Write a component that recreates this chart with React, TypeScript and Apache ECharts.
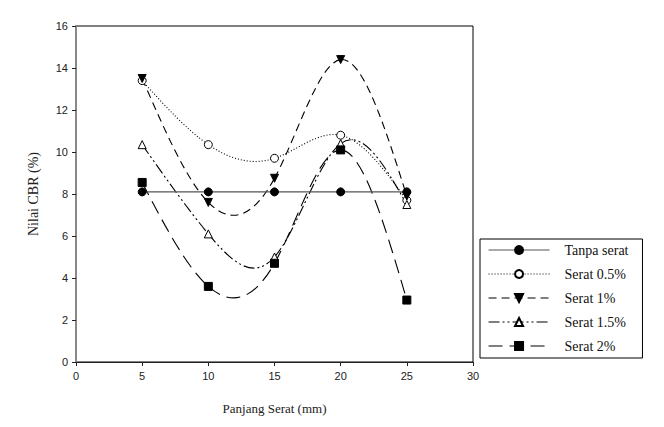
import React, { useEffect, useRef } from "react";
import * as echarts from "echarts";

const xValues = [5, 10, 15, 20, 25];
const tanpaSerat = [8.1, 8.1, 8.1, 8.1, 8.1];
const serat05 = [13.4, 10.35, 9.7, 10.8, 7.7];
const serat1 = [13.5, 7.6, 8.75, 14.4, 7.9];
const serat15 = [10.35, 6.1, 5.0, 10.4, 7.5];
const serat2 = [8.55, 3.6, 4.7, 10.1, 2.95];
const seriesNames = ["Tanpa serat", "Serat 0.5%", "Serat 1%", "Serat 1.5%", "Serat 2%"];

const pairs = (ys: number[]) => xValues.map((x, i) => [x, ys[i]]);

// natural cubic spline second derivatives (drawing style of the curve)
function splineM(xs: number[], ys: number[]) {
  const n = xs.length;
  const M = new Array(n).fill(0);
  if (n < 3) return M;
  const a: number[] = [], b: number[] = [], c: number[] = [], d: number[] = [];
  for (let i = 1; i < n - 1; i++) {
    const h0 = xs[i] - xs[i - 1];
    const h1 = xs[i + 1] - xs[i];
    a.push(h0 / 6);
    b.push((h0 + h1) / 3);
    c.push(h1 / 6);
    d.push((ys[i + 1] - ys[i]) / h1 - (ys[i] - ys[i - 1]) / h0);
  }
  const m = b.length;
  for (let i = 1; i < m; i++) {
    const w = a[i] / b[i - 1];
    b[i] -= w * c[i - 1];
    d[i] -= w * d[i - 1];
  }
  const sol = new Array(m).fill(0);
  sol[m - 1] = d[m - 1] / b[m - 1];
  for (let i = m - 2; i >= 0; i--) sol[i] = (d[i] - c[i] * sol[i + 1]) / b[i];
  for (let i = 0; i < m; i++) M[i + 1] = sol[i];
  return M;
}

export default function App() {
  const ref = useRef<HTMLDivElement>(null);
  useEffect(() => {
    if (!ref.current) return;
    const chart = echarts.init(ref.current, undefined, { renderer: "svg" });
    const serif = "Liberation Serif";
    const sans = "Liberation Sans";

    const curve = (name: string, ys: number[], dash: number[]) => {
      const M = splineM(xValues, ys);
      return {
        name: name + " curve",
        type: "custom",
        data: pairs(ys),
        z: 2,
        silent: true,
        renderItem: (params: any, api: any) => {
          const i = params.dataIndex;
          if (i >= xValues.length - 1) return null;
          const x0 = xValues[i], x1 = xValues[i + 1];
          const y0 = ys[i], y1 = ys[i + 1];
          const h = x1 - x0;
          const s = (y1 - y0) / h;
          const m0 = s - (h * (2 * M[i] + M[i + 1])) / 6;
          const m1 = s + (h * (M[i] + 2 * M[i + 1])) / 6;
          const p0 = api.coord([x0, y0]);
          const c1 = api.coord([x0 + h / 3, y0 + (m0 * h) / 3]);
          const c2 = api.coord([x1 - h / 3, y1 - (m1 * h) / 3]);
          const p1 = api.coord([x1, y1]);
          return {
            type: "bezierCurve",
            shape: {
              x1: p0[0], y1: p0[1],
              cpx1: c1[0], cpy1: c1[1],
              cpx2: c2[0], cpy2: c2[1],
              x2: p1[0], y2: p1[1],
            },
            style: { stroke: "#000", lineWidth: 1.1, lineDash: dash, fill: null },
          };
        },
      };
    };

    const marks = (name: string, ys: number[], symbol: string, fill: string, rotate = 0, showLine = false) => ({
      name,
      type: "line",
      data: pairs(ys),
      symbol,
      symbolSize: 8,
      symbolRotate: rotate,
      showAllSymbol: true,
      lineStyle: showLine ? { color: "#555", width: 1.2 } : { width: 0, opacity: 0 },
      itemStyle: { color: fill, borderColor: "#000", borderWidth: 1 },
      z: 4,
    });

    const legendItem = (name: string, dash: any, color = "#000") => ({
      name,
      lineStyle: { width: 1.1, type: dash, color, opacity: 1 },
    });

    chart.setOption({
      animation: false,
      backgroundColor: "#fff",
      grid: {
        left: 76,
        top: 26,
        right: 191,
        bottom: 65,
        show: true,
        borderColor: "#000",
        borderWidth: 1,
        backgroundColor: "transparent",
      },
      xAxis: {
        type: "value",
        min: 0,
        max: 30,
        interval: 5,
        name: "Panjang Serat (mm)",
        nameLocation: "middle",
        nameGap: 40,
        nameTextStyle: { fontFamily: serif, fontSize: 13, color: "#222" },
        axisLine: { show: true, onZero: false, lineStyle: { color: "#222", width: 1 } },
        axisTick: { show: true, length: 4, lineStyle: { color: "#222" } },
        axisLabel: { fontFamily: sans, fontSize: 11, color: "#222", margin: 8 },
        splitLine: { show: false },
      },
      yAxis: {
        type: "value",
        min: 0,
        max: 16,
        interval: 2,
        name: "Nilai CBR (%)",
        nameLocation: "middle",
        nameGap: 36,
        nameTextStyle: { fontFamily: serif, fontSize: 14, color: "#222" },
        axisLine: { show: true, onZero: false, lineStyle: { color: "#888", width: 2 } },
        axisTick: { show: true, length: 4, lineStyle: { color: "#222" } },
        axisLabel: { fontFamily: sans, fontSize: 11, color: "#222", margin: 8 },
        splitLine: { show: false },
      },
      legend: {
        orient: "vertical",
        left: 480,
        top: 239,
        width: 156,
        padding: [4, 14, 5, 8],
        itemWidth: 61,
        itemHeight: 10,
        itemGap: 10,
        borderColor: "#000",
        borderWidth: 1,
        backgroundColor: "#fff",
        data: [
          legendItem(seriesNames[0], "solid", "#555"),
          legendItem(seriesNames[1], [1, 2]),
          legendItem(seriesNames[2], [8, 5]),
          legendItem(seriesNames[3], [11, 3, 2, 3, 2, 3]),
          legendItem(seriesNames[4], [14, 7]),
        ],
        textStyle: { fontFamily: serif, fontSize: 14, color: "#111", padding: [0, 0, 0, 10] },
      },
      series: [
        curve(seriesNames[1], serat05, [1, 2]),
        curve(seriesNames[2], serat1, [8, 5]),
        curve(seriesNames[3], serat15, [11, 3, 2, 3, 2, 3]),
        curve(seriesNames[4], serat2, [14, 7]),
        marks(seriesNames[0], tanpaSerat, "circle", "#000", 0, true),
        marks(seriesNames[1], serat05, "circle", "#fff"),
        marks(seriesNames[2], serat1, "triangle", "#000", 180),
        marks(seriesNames[3], serat15, "triangle", "#fff"),
        marks(seriesNames[4], serat2, "rect", "#000"),
      ],
    });
    return () => chart.dispose();
  }, []);
  return <div ref={ref} style={{ width: 664, height: 427, margin: -8 }} />;
}
